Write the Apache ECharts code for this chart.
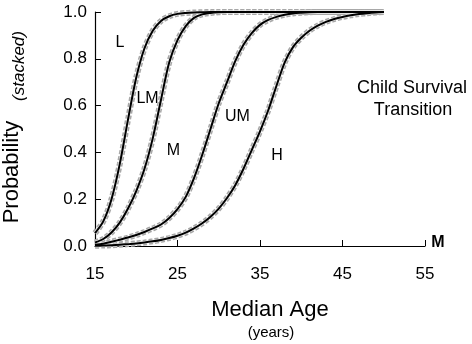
<!DOCTYPE html>
<html>
<head>
<meta charset="utf-8">
<script src="https://cdn.jsdelivr.net/npm/echarts@6/dist/echarts.min.js"></script>
<style>
html,body{margin:0;padding:0;background:#fff;}
#chart{width:472px;height:344px;}
</style>
</head>
<body>
<div id="chart"></div>
<script>
// Median age (years)
const ages = [15,16,17,18,19,20,21,22,23,24,25,26,27,28,29,30,31,32,33,34,35,36,37,38,39,40,41,42,43,44,45,46,47,48,49,50];
// Stacked probability boundaries
const curveL = [0.055,0.105,0.20,0.35,0.54,0.72,0.845,0.92,0.962,0.982,0.992,0.996,0.998,0.999,1,1,1,1,1,1,1,1,1,1,1,1,1,1,1,1,1,1,1,1,1,1];
const curveLM = [0.015,0.03,0.058,0.10,0.16,0.235,0.33,0.46,0.625,0.785,0.88,0.94,0.975,0.99,0.996,0.999,1,1,1,1,1,1,1,1,1,1,1,1,1,1,1,1,1,1,1,1];
const curveM = [0.005,0.01,0.018,0.027,0.036,0.047,0.06,0.075,0.092,0.12,0.158,0.21,0.29,0.39,0.50,0.61,0.70,0.79,0.86,0.91,0.945,0.966,0.979,0.988,0.994,0.997,0.999,1,1,1,1,1,1,1,1,1];
const curveUM = [0.001,0.002,0.003,0.005,0.008,0.011,0.015,0.02,0.026,0.034,0.044,0.057,0.075,0.097,0.125,0.16,0.205,0.26,0.33,0.41,0.49,0.58,0.685,0.785,0.85,0.89,0.92,0.942,0.958,0.97,0.979,0.986,0.991,0.995,0.998,1.0];
const curves = [curveL, curveLM, curveM, curveUM];

const xTicks = [15,25,35,45,55];
const yTicks = [0,0.2,0.4,0.6,0.8,1.0];

const FONT = 'Liberation Sans, Arial, sans-serif';

const series = [];
curves.forEach(function(c){
  const d = ages.map(function(a,i){return [a,c[i]];});
  series.push({type:'line',data:d,showSymbol:false,smooth:0.3,clip:false,z:2,silent:true,
    lineStyle:{color:'#a8a8a8',width:6,type:[4,2]}});
  series.push({type:'line',data:d,showSymbol:false,smooth:0.3,clip:false,z:3,silent:true,
    lineStyle:{color:'#ececec',width:3}});
  series.push({type:'line',data:d,showSymbol:false,smooth:0.3,clip:false,z:4,silent:true,
    lineStyle:{color:'#000',width:2}});
});

const chart = echarts.init(document.getElementById('chart'), null, {renderer:'canvas'});
chart.setOption({
  backgroundColor:'#fff',
  animation:false,
  grid:{left:95,right:47,top:12,bottom:98,containLabel:false},
  xAxis:{type:'value',min:xTicks[0],max:xTicks[xTicks.length-1],interval:10,
    axisLine:{lineStyle:{color:'#000',width:1.2}},
    axisTick:{inside:true,length:6,lineStyle:{color:'#000',width:1}},
    axisLabel:{color:'#000',fontSize:17,fontFamily:FONT,margin:20},
    splitLine:{show:false}},
  yAxis:{type:'value',min:yTicks[0],max:yTicks[yTicks.length-1],interval:0.2,
    axisLine:{show:true,lineStyle:{color:'#000',width:1.2}},
    axisTick:{show:true,inside:true,length:6,lineStyle:{color:'#000',width:1}},
    axisLabel:{color:'#000',fontSize:17,fontFamily:FONT,margin:8,formatter:function(v){return v.toFixed(1);}},
    splitLine:{show:false}},
  series:series,
  graphic:[
    {type:'text',x:12,y:172,rotation:Math.PI/2,style:{text:'Probability',font:'22px '+FONT,fill:'#000',textAlign:'center',textVerticalAlign:'middle'}},
    {type:'text',x:19,y:66,rotation:Math.PI/2,style:{text:'(stacked)',font:'italic 17px '+FONT,fill:'#000',textAlign:'center',textVerticalAlign:'middle'}},
    {type:'text',x:270,y:310,style:{text:'Median Age',font:'22px '+FONT,fill:'#000',textAlign:'center',textVerticalAlign:'middle'}},
    {type:'text',x:271,y:333,style:{text:'(years)',font:'15px '+FONT,fill:'#000',textAlign:'center',textVerticalAlign:'middle'}},
    {type:'text',x:120,y:43,style:{text:'L',font:'16px '+FONT,fill:'#000',textAlign:'center',textVerticalAlign:'middle'}},
    {type:'text',x:147.5,y:98.5,style:{text:'LM',font:'16px '+FONT,fill:'#000',textAlign:'center',textVerticalAlign:'middle'}},
    {type:'text',x:173.5,y:151,style:{text:'M',font:'16px '+FONT,fill:'#000',textAlign:'center',textVerticalAlign:'middle'}},
    {type:'text',x:237.5,y:116.5,style:{text:'UM',font:'16px '+FONT,fill:'#000',textAlign:'center',textVerticalAlign:'middle'}},
    {type:'text',x:277,y:156,style:{text:'H',font:'16px '+FONT,fill:'#000',textAlign:'center',textVerticalAlign:'middle'}},
    {type:'text',x:412,y:88.5,style:{text:'Child Survival',font:'18px '+FONT,fill:'#000',textAlign:'center',textVerticalAlign:'middle'}},
    {type:'text',x:413,y:110,style:{text:'Transition',font:'18px '+FONT,fill:'#000',textAlign:'center',textVerticalAlign:'middle'}},
    {type:'text',x:438,y:243,style:{text:'M',font:'bold 16px '+FONT,fill:'#000',textAlign:'center',textVerticalAlign:'middle'}}
  ]
});
</script>
</body>
</html>
